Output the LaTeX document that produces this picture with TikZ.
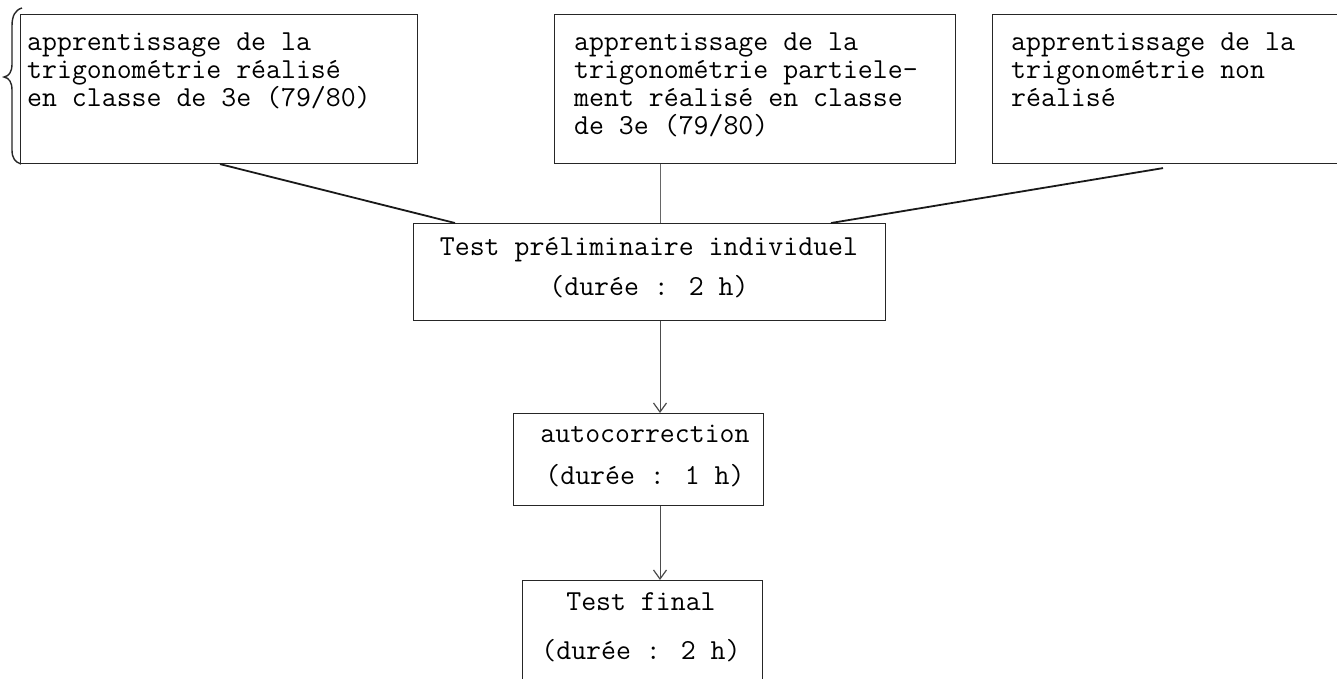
\documentclass[tikz,border=0pt]{standalone}
\usepackage{fontspec}
\usetikzlibrary{calc,arrows.meta}
\begin{document}
\begin{tikzpicture}[x=1pt,y=-1pt,
  box/.style={draw=black!85,line width=1.1pt,rectangle,inner sep=0pt},
  txt/.style={font=\ttfamily\fontsize{29}{28}\selectfont,inner sep=0pt,align=left,anchor=north west},
  ctxt/.style={font=\ttfamily\fontsize{29}{#1}\selectfont,inner sep=0pt,align=center},
  link/.style={draw=black!90,line width=1.8pt},
  thin/.style={draw=black!60,line width=0.9pt},
  arr/.style={draw=black!70,line width=0.9pt,-{Straight Barb[length=9pt,width=13pt,line width=1.2pt]}}]
\useasboundingbox (0,0) rectangle (1337,678);
\clip (0,0) rectangle (1337,678);
\fill[white] (0,0) rectangle (1337,678);
% top boxes
\node[box,minimum width=397pt,minimum height=149pt,anchor=north west] (b1) at (20,14) {};
\node[box,minimum width=401pt,minimum height=149pt,anchor=north west] (b2) at (554,14) {};
\node[box,minimum width=360pt,minimum height=149pt,anchor=north west] (b3) at (992,14) {};
\node[txt] (t1) at (27,33) {apprentissage de la\\trigonométrie réalisé\\en classe de 3e (79/80)};
\node[txt] (t2) at (574,33) {apprentissage de la\\trigonométrie partiele-\\ment réalisé en classe\\de 3e (79/80)};
\node[txt] (t3) at (1011,33) {apprentissage de la\\trigonométrie non\\réalisé};
% brace
\draw[line width=1.4pt,black!85] (22,8) .. controls (15,10) and (12,16) .. (12,26) -- (12,64)
  .. controls (12,72) and (9,76) .. (4,77) .. controls (9,78) and (12,82) .. (12,90)
  -- (12,150) .. controls (12,158) and (15,162) .. (21,164);
% middle boxes
\node[box,minimum width=472pt,minimum height=97pt,anchor=north west] (test) at (413,223) {};
\node[ctxt=40] (t4) at (649,268) {Test préliminaire individuel\\(durée : 2 h)};
\node[box,minimum width=250pt,minimum height=92pt,anchor=north west] (auto) at (513,413) {};
\node[ctxt=42] (t5) at (645,456) {autocorrection\\(durée : 1 h)};
\node[box,minimum width=240pt,minimum height=130pt,anchor=north west] (final) at (522,580) {};
\node[ctxt=49] (t6) at (641,627) {Test final\\(durée : 2 h)};
% connectors
\draw[link] ($(b1.south west)+(200,0)$) -- ($(test.north west)+(42,0)$);
\draw[link] ($(b3.south west)+(171,4)$) -- ($(test.north west)+(418,0)$);
\draw[thin] ($(test.north west)+(247,0)$) coordinate (m) -- (m |- b2.south);
\draw[arr] ($(test.south west)+(247,0)$) coordinate (a1) -- (a1 |- auto.north);
\draw[arr] ($(auto.south west)+(147,0)$) coordinate (a2) -- (a2 |- final.north);
\end{tikzpicture}
\end{document}
